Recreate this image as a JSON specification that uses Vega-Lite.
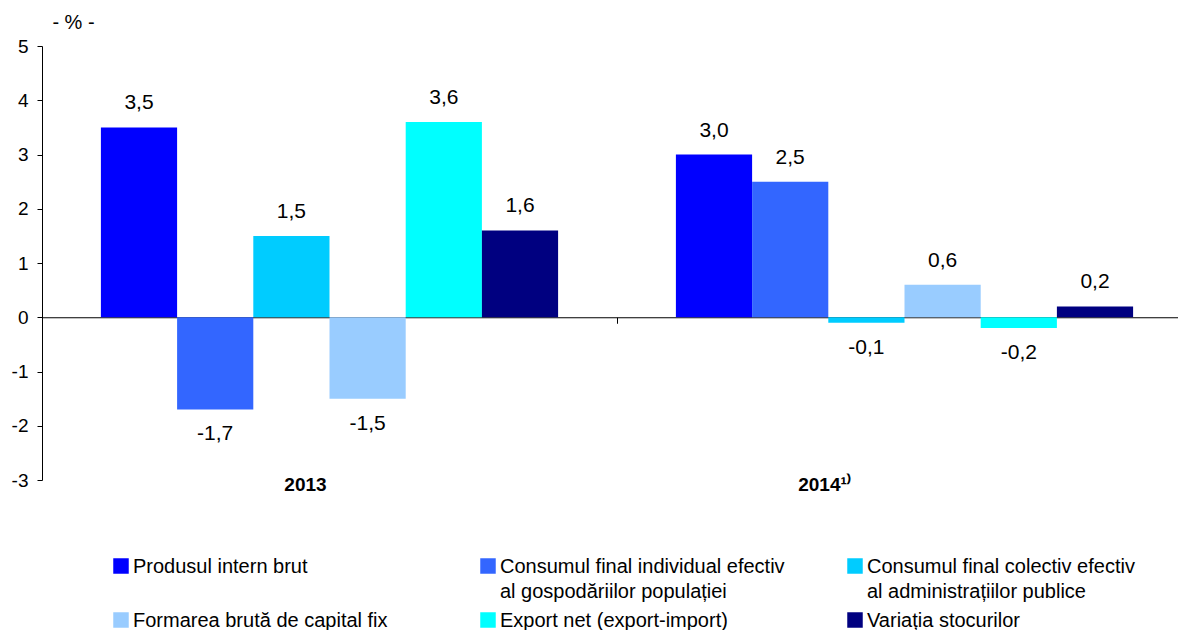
{
  "$schema": "https://vega.github.io/schema/vega-lite/v6.json",
  "width": 1136,
  "height": 434,
  "autosize": {"type": "none"},
  "padding": {"left": 42, "top": 46, "right": 0, "bottom": 150},
  "config": {
    "locale": {"number": {"decimal": ",", "thousands": ".", "grouping": [3], "currency": ["", ""], "minus": "-"}},
    "view": {"stroke": null},
    "font": "Liberation Sans",
    "text": {"font": "Liberation Sans"},
    "style": {"guide-label": {"dy": 7, "lineHeight": 25}}
  },
  "data": {
    "values": [
      {"year": "2013", "series": "Produsul intern brut", "value": 3.5},
      {"year": "2013", "series": "Consumul final individual efectiv al gospodăriilor populației", "value": -1.7},
      {"year": "2013", "series": "Consumul final colectiv efectiv al administrațiilor publice", "value": 1.5},
      {"year": "2013", "series": "Formarea brută de capital fix", "value": -1.5},
      {"year": "2013", "series": "Export net (export-import)", "value": 3.6},
      {"year": "2013", "series": "Variația stocurilor", "value": 1.6},
      {"year": "2014", "series": "Produsul intern brut", "value": 3.0},
      {"year": "2014", "series": "Consumul final individual efectiv al gospodăriilor populației", "value": 2.5},
      {"year": "2014", "series": "Consumul final colectiv efectiv al administrațiilor publice", "value": -0.1},
      {"year": "2014", "series": "Formarea brută de capital fix", "value": 0.6},
      {"year": "2014", "series": "Export net (export-import)", "value": -0.2},
      {"year": "2014", "series": "Variația stocurilor", "value": 0.2}
    ]
  },
  "encoding": {
    "xOffset": {
      "field": "series", "type": "nominal",
      "sort": ["Produsul intern brut", "Consumul final individual efectiv al gospodăriilor populației", "Consumul final colectiv efectiv al administrațiilor publice", "Formarea brută de capital fix", "Export net (export-import)", "Variația stocurilor"],
      "scale": {"paddingInner": 0, "paddingOuter": 0.773}
    },
    "y": {
      "field": "value", "type": "quantitative",
      "scale": {"domain": [-3, 5], "nice": false, "zero": false},
      "axis": {
        "values": [-3, -2, -1, 0, 1, 2, 3, 4, 5],
        "format": "d",
        "grid": false,
        "domainColor": "#000",
        "tickColor": "#000",
        "tickSize": 5,
        "labelFontSize": 19,
        "labelColor": "#000",
        "labelPadding": 9,
        "labelOffset": -7,
        "labelFont": "Liberation Sans",
        "title": "- % -",
        "titleAngle": 0,
        "titleX": 31,
        "titleY": -24,
        "titleAlign": "center",
        "titleBaseline": "middle",
        "titleFontWeight": "normal",
        "titleFontSize": 20,
        "titleFont": "Liberation Sans",
        "titleColor": "#000"
      }
    }
  },
  "layer": [
    {
      "mark": {"type": "bar"},
      "encoding": {
        "x": {
          "field": "year", "type": "nominal",
          "scale": {"range": [0, 1150], "paddingInner": 0, "paddingOuter": 0},
          "axis": {
            "orient": "bottom",
            "offset": -162.75,
            "title": null,
            "labels": false,
            "domain": true,
            "domainColor": "#000",
            "ticks": true,
            "tickColor": "#000",
            "tickSize": 6,
            "tickBand": "extent"
          }
        },
        "color": {
          "field": "series", "type": "nominal",
          "scale": {
            "domain": ["Produsul intern brut", "Consumul final individual efectiv al gospodăriilor populației", "Consumul final colectiv efectiv al administrațiilor publice", "Formarea brută de capital fix", "Export net (export-import)", "Variația stocurilor"],
            "range": ["#0000FF", "#3366FF", "#00CCFF", "#99CCFF", "#00FFFF", "#000080"]
          },
          "legend": {
            "orient": "none",
            "legendX": 69,
            "legendY": 510,
            "direction": "horizontal",
            "columns": 3,
            "gridAlign": "all",
            "title": null,
            "symbolType": "square",
            "symbolSize": 240,
            "symbolStrokeWidth": 0,
            "symbolOpacity": 1,
            "labelFontSize": 20,
            "labelFont": "Liberation Sans",
            "labelColor": "#000",
            "labelLimit": 400,
            "labelOffset": 2,
            "labelBaseline": "alphabetic",
            "columnPadding": 60,
            "rowPadding": 8,
            "labelExpr": "indexof(datum.label, ' al ') >= 0 ? split(replace(datum.label, ' al ', '|al '), '|') : [datum.label, ' ']"
          }
        }
      }
    },
    {
      "mark": {
        "type": "text",
        "fontSize": 21,
        "font": "Liberation Sans",
        "color": "#000",
        "baseline": "middle",
        "dy": {"expr": "datum.value >= 0 ? -24 : 25"}
      },
      "encoding": {
        "x": {
          "field": "year", "type": "nominal",
          "scale": {"range": [0, 1150], "paddingInner": 0, "paddingOuter": 0},
          "axis": {
            "orient": "bottom",
            "title": null,
            "domain": false,
            "ticks": false,
            "labelAngle": 0,
            "labelFontSize": 19,
            "labelFontWeight": "bold",
            "labelFont": "Liberation Sans",
            "labelColor": "#000",
            "labelPadding": -12,
            "labelExpr": "datum.label == '2014' ? '2014¹⁾' : datum.label",
            "labelOffset": {"condition": {"test": "datum.value == '2014'", "value": -80}, "value": -24}
          }
        },
        "text": {"field": "value", "type": "quantitative", "format": ".1f"}
      }
    }
  ],
  "resolve": {"axis": {"x": "independent"}}
}
